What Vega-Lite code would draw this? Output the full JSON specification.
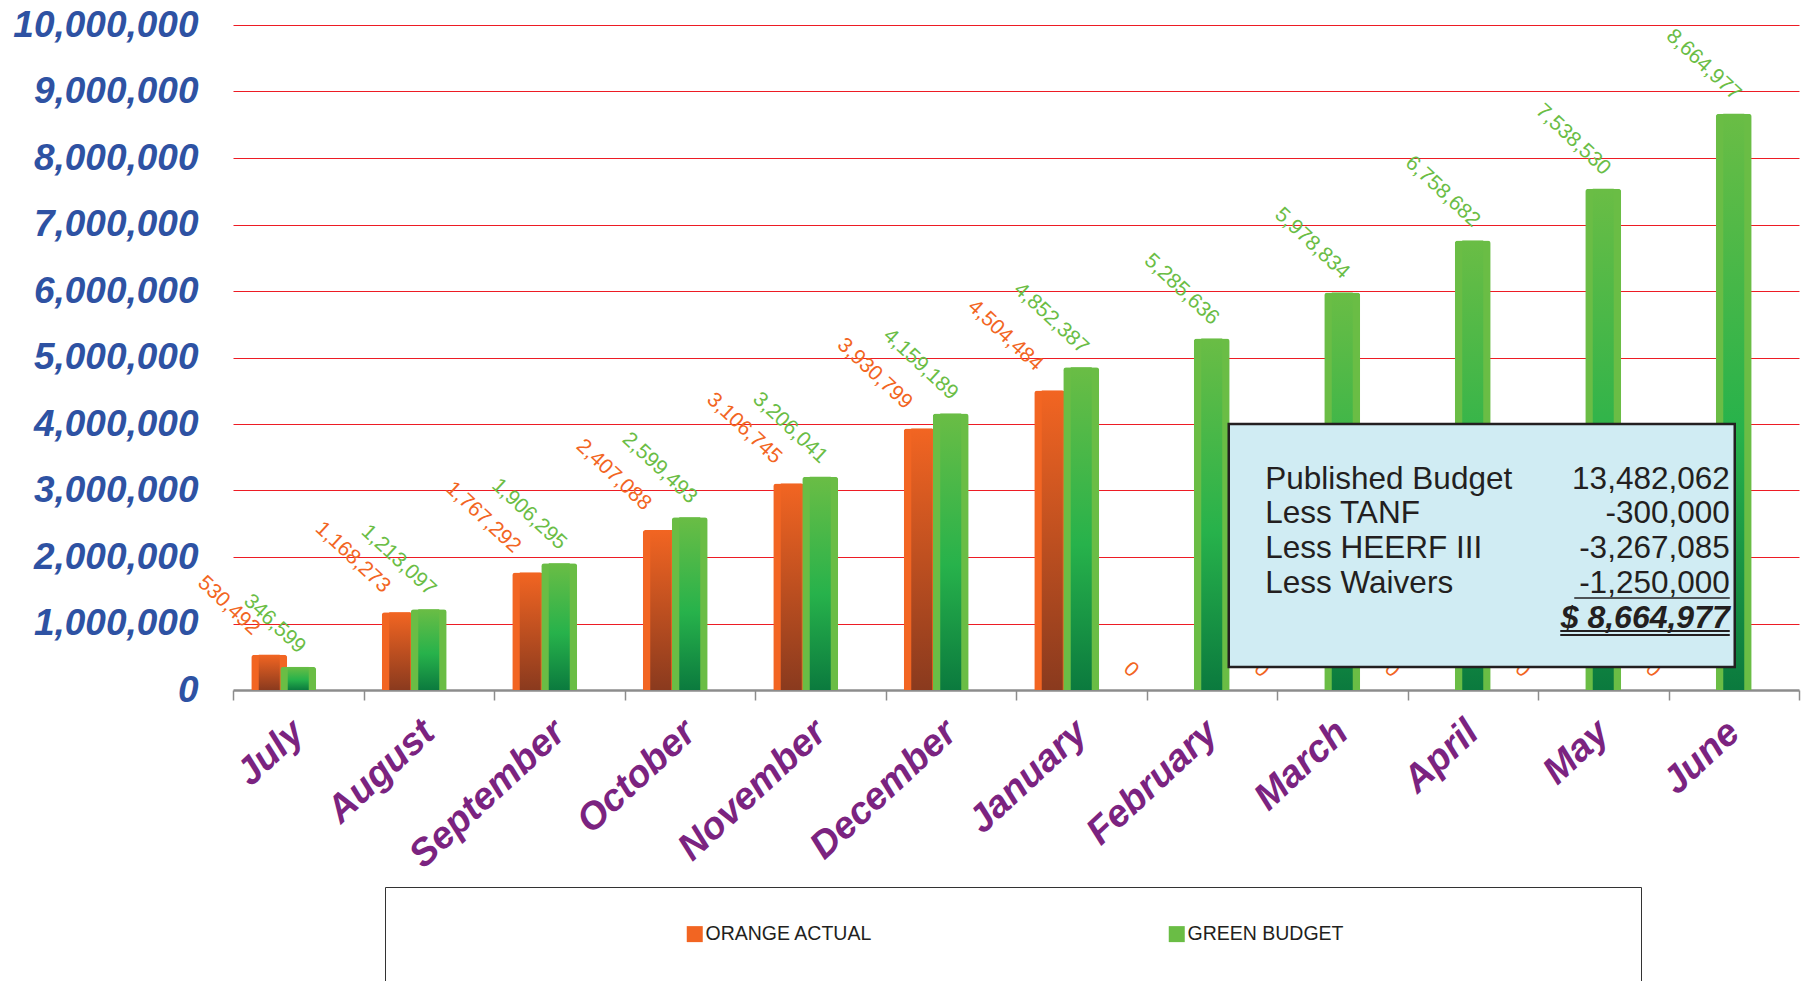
{
  "$schema": "https://vega.github.io/schema/vega-lite/v6.json",
  "width": 1566,
  "height": 665,
  "autosize": {"type": "none"},
  "padding": {"left": 233, "top": 25, "right": 9, "bottom": 291},
  "background": "#ffffff",
  "config": {"view": {"stroke": null}, "font": "Liberation Sans"},
  "layer": [
    {
      "data": {
        "values": [
          {"month": "July", "series": "ORANGE ACTUAL", "value": 530492},
          {"month": "July", "series": "GREEN BUDGET", "value": 346599},
          {"month": "August", "series": "ORANGE ACTUAL", "value": 1168273},
          {"month": "August", "series": "GREEN BUDGET", "value": 1213097},
          {"month": "September", "series": "ORANGE ACTUAL", "value": 1767292},
          {"month": "September", "series": "GREEN BUDGET", "value": 1906295},
          {"month": "October", "series": "ORANGE ACTUAL", "value": 2407088},
          {"month": "October", "series": "GREEN BUDGET", "value": 2599493},
          {"month": "November", "series": "ORANGE ACTUAL", "value": 3106745},
          {"month": "November", "series": "GREEN BUDGET", "value": 3206041},
          {"month": "December", "series": "ORANGE ACTUAL", "value": 3930799},
          {"month": "December", "series": "GREEN BUDGET", "value": 4159189},
          {"month": "January", "series": "ORANGE ACTUAL", "value": 4504484},
          {"month": "January", "series": "GREEN BUDGET", "value": 4852387},
          {"month": "February", "series": "ORANGE ACTUAL", "value": 0},
          {"month": "February", "series": "GREEN BUDGET", "value": 5285636},
          {"month": "March", "series": "ORANGE ACTUAL", "value": 0},
          {"month": "March", "series": "GREEN BUDGET", "value": 5978834},
          {"month": "April", "series": "ORANGE ACTUAL", "value": 0},
          {"month": "April", "series": "GREEN BUDGET", "value": 6758682},
          {"month": "May", "series": "ORANGE ACTUAL", "value": 0},
          {"month": "May", "series": "GREEN BUDGET", "value": 7538530},
          {"month": "June", "series": "ORANGE ACTUAL", "value": 0},
          {"month": "June", "series": "GREEN BUDGET", "value": 8664977}
        ]
      },
      "encoding": {
        "x": {
          "field": "month",
          "type": "nominal",
          "sort": ["July", "August", "September", "October", "November", "December", "January", "February", "March", "April", "May", "June"],
          "scale": {"paddingInner": 0, "paddingOuter": 0},
          "axis": {
            "title": null,
            "labelAngle": -43,
            "labelAlign": "right",
            "labelBaseline": "middle",
            "labelFont": "Liberation Sans",
            "labelFontSize": 38,
            "labelFontWeight": "bold",
            "labelFontStyle": "italic",
            "labelColor": "#7B2380",
            "labelPadding": 27,
            "labelLimit": 400,
            "tickBand": "extent",
            "tickSize": 10,
            "tickColor": "#8C8C8C",
            "tickWidth": 1.5,
            "domainColor": "#8C8C8C",
            "domainWidth": 2.5,
            "grid": false
          }
        },
        "y": {
          "field": "value",
          "type": "quantitative",
          "scale": {"domain": [0, 10000000], "nice": false, "zero": true},
          "axis": {
            "title": null,
            "values": [0, 1000000, 2000000, 3000000, 4000000, 5000000, 6000000, 7000000, 8000000, 9000000, 10000000],
            "format": ",.0f",
            "labelFont": "Liberation Sans",
            "labelFontSize": 37,
            "labelFontWeight": "bold",
            "labelFontStyle": "italic",
            "labelColor": "#2E52A3",
            "labelPadding": 35,
            "labelLimit": 400,
            "labelFlush": false,
            "labelOverlap": false,
            "ticks": false,
            "domain": false,
            "grid": true,
            "gridColor": "#ED1C24",
            "gridWidth": 1,
            "gridOpacity": {"condition": {"test": "datum.value === 0", "value": 0}, "value": 1}
          }
        }
      },
      "layer": [
        {
          "transform": [{"filter": "datum.series == 'ORANGE ACTUAL'"}],
          "mark": {"type": "bar", "width": 36, "xOffset": -29, "cornerRadiusTopLeft": 3, "cornerRadiusTopRight": 3},
          "encoding": {
            "color": {
              "field": "series",
              "type": "nominal",
              "scale": {"domain": ["ORANGE ACTUAL", "GREEN BUDGET"], "range": ["#F26522", "#6ABD45"]},
              "legend": {
                "orient": "none",
                "legendX": 152,
                "legendY": 862,
                "direction": "horizontal",
                "columns": 2,
                "title": " ",
                "titleOrient": "left",
                "titleFontSize": 1,
                "titlePadding": 263,
                "padding": 37,
                "strokeColor": "#333333",
                "fillColor": "#ffffff",
                "symbolType": "square",
                "symbolSize": 256,
                "symbolStrokeWidth": 0,
                "symbolOpacity": 1,
                "labelFont": "Liberation Sans",
                "labelFontSize": 19.5,
                "labelColor": "#231F20",
                "labelOffset": 1,
                "columnPadding": 294,
                "labelLimit": 800,
                "labelExpr": "datum.label == 'GREEN BUDGET' ? pad(datum.label, 60, '\u00a0') + '\u200b' : datum.label"
              }
            }
          }
        },
        {
          "transform": [{"filter": "datum.series == 'ORANGE ACTUAL'"}],
          "mark": {
            "type": "bar",
            "width": 21,
            "xOffset": -29,
            "fill": {"gradient": "linear", "x1": 0, "y1": 0, "x2": 0, "y2": 1, "stops": [{"offset": 0, "color": "#F26522"}, {"offset": 1, "color": "#8A3A1E"}]}
          }
        },
        {
          "transform": [{"filter": "datum.series == 'GREEN BUDGET'"}],
          "mark": {"type": "bar", "width": 36, "cornerRadiusTopLeft": 3, "cornerRadiusTopRight": 3},
          "encoding": {
            "color": {"field": "series", "type": "nominal"}
          }
        },
        {
          "transform": [{"filter": "datum.series == 'GREEN BUDGET'"}],
          "mark": {
            "type": "bar",
            "width": 21,
            "fill": {"gradient": "linear", "x1": 0, "y1": 0, "x2": 0, "y2": 1, "stops": [{"offset": 0, "color": "#6ABD45"}, {"offset": 0.55, "color": "#27B24B"}, {"offset": 1, "color": "#0B7A3E"}]}
          }
        },
        {
          "transform": [{"filter": "datum.series == 'ORANGE ACTUAL' && datum.value > 0"}],
          "mark": {"type": "text", "angle": 43, "align": "right", "baseline": "middle", "fontSize": 21, "color": "#F26522", "xOffset": -29, "dx": -25.2, "dy": -8},
          "encoding": {"text": {"field": "value", "type": "quantitative", "format": ","}}
        },
        {
          "transform": [{"filter": "datum.series == 'GREEN BUDGET' && datum.value > 0"}],
          "mark": {"type": "text", "angle": 43, "align": "right", "baseline": "middle", "fontSize": 21, "color": "#6ABD45", "dx": -8.7, "dy": -15.2},
          "encoding": {"text": {"field": "value", "type": "quantitative", "format": ","}}
        },
        {
          "transform": [{"filter": "datum.series == 'ORANGE ACTUAL' && datum.value == 0"}],
          "mark": {"type": "text", "angle": 43, "align": "center", "baseline": "middle", "fontSize": 21, "color": "#F26522", "xOffset": -29, "dx": -51.8, "dy": 20.7},
          "encoding": {"text": {"field": "value", "type": "quantitative", "format": ","}}
        }
      ]
    },
    {
      "data": {"values": [{}]},
      "mark": {"type": "rect", "fill": "#D0ECF3", "stroke": "#231F20", "strokeWidth": 2.5, "xOffset": 17, "x2Offset": 1},
      "encoding": {
        "x": {"datum": "February", "bandPosition": 0.5},
        "x2": {"datum": "June", "bandPosition": 0.5},
        "y": {"datum": 4000000},
        "y2": {"datum": 346000}
      }
    },
    {
      "data": {"values": [{}]},
      "mark": {"type": "text", "text": ["Published Budget", "Less TANF", "Less HEERF III", "Less Waivers"], "align": "left", "baseline": "top", "fontSize": 31.5, "lineHeight": 34.7, "color": "#231F20", "xOffset": -77},
      "encoding": {"x": {"datum": "March"}, "y": {"datum": 3406000}}
    },
    {
      "data": {"values": [{}]},
      "mark": {"type": "text", "text": ["13,482,062", "-300,000", "-3,267,085", "-1,250,000"], "align": "right", "baseline": "top", "fontSize": 31.5, "lineHeight": 34.7, "color": "#231F20", "xOffset": -4},
      "encoding": {"x": {"datum": "June"}, "y": {"datum": 3406000}}
    },
    {
      "data": {"values": [{}]},
      "mark": {"type": "text", "text": "$ 8,664,977", "align": "right", "baseline": "alphabetic", "fontSize": 32, "fontWeight": "bold", "fontStyle": "italic", "color": "#231F20", "xOffset": -4},
      "encoding": {"x": {"datum": "June"}, "y": {"datum": 932000}}
    },
    {
      "data": {"values": [{}]},
      "mark": {"type": "rule", "color": "#231F20", "strokeWidth": 1.5, "xOffset": -29, "x2Offset": -4},
      "encoding": {"x": {"datum": "May"}, "x2": {"datum": "June"}, "y": {"datum": 1383000}}
    },
    {
      "data": {"values": [{}]},
      "mark": {"type": "rule", "color": "#231F20", "strokeWidth": 2, "xOffset": -43, "x2Offset": -4},
      "encoding": {"x": {"datum": "May"}, "x2": {"datum": "June"}, "y": {"datum": 887000}}
    },
    {
      "data": {"values": [{}]},
      "mark": {"type": "rule", "color": "#231F20", "strokeWidth": 2, "xOffset": -43, "x2Offset": -4},
      "encoding": {"x": {"datum": "May"}, "x2": {"datum": "June"}, "y": {"datum": 827000}}
    }
  ]
}
